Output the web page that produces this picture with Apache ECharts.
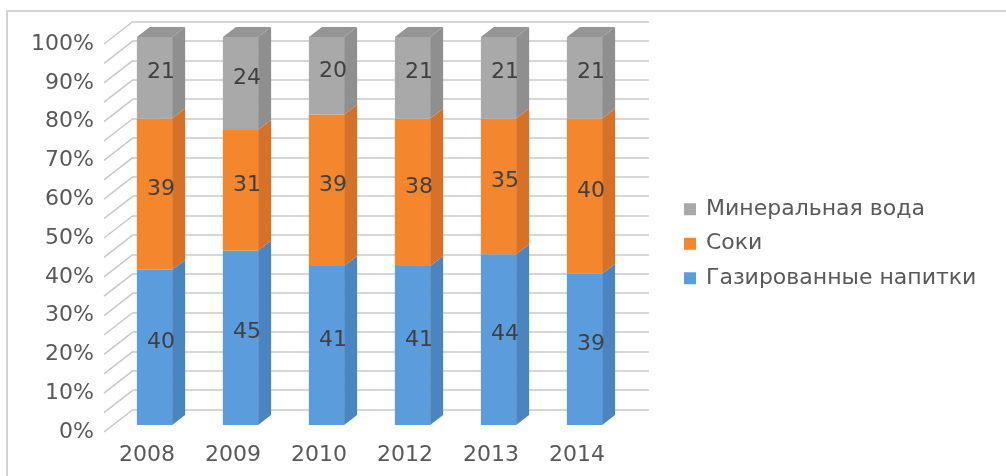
<!DOCTYPE html>
<html>
<head>
<meta charset="utf-8">
<script src="https://cdn.jsdelivr.net/npm/echarts@6/dist/echarts.min.js"></script>
<style>
  html, body { margin: 0; padding: 0; background: #ffffff; }
  #chart { width: 1006px; height: 476px; }
</style>
</head>
<body>
<div id="chart"></div>
<script>
// Beverage market shares by year, percent (each column sums to 100)
const categories = ['2008', '2009', '2010', '2012', '2013', '2014'];
const soda  = [40, 45, 41, 41, 44, 39];   // Газированные напитки
const juice = [39, 31, 39, 38, 35, 40];   // Соки
const water = [21, 24, 20, 21, 21, 21];   // Минеральная вода
const wallTicks = [0, 5, 10, 15, 20, 25, 30, 35, 40, 45, 50, 55, 60, 65, 70, 75, 80, 85, 90, 95, 100];

const seriesDefs = [
  { name: 'Газированные напитки', values: soda,  front: '#5B9DDC', side: '#4A85BF', top: '#4F8FCC' },
  { name: 'Соки',                 values: juice, front: '#F4862E', side: '#D87128', top: '#E07A2C' },
  { name: 'Минеральная вода',     values: water, front: '#A9A9A9', side: '#8F8F8F', top: '#959595' }
];

const FONT = 'DejaVu Sans';
const FONT_SIZE = 22;

// Perspective offsets (pixels) of the pseudo-3D box
const WALL_DEPTH = [29, -22.5];   // floor front edge -> back wall
const BAR_FRONT  = [7.5, -7];     // floor front edge -> bar front face
const BAR_DEPTH  = [13, -10];     // bar front face -> bar back face
const BAR_WIDTH_RATIO = 0.41;

// Build stacked [category, base, top, value] rows
const base = categories.map(() => 0);
const stackedRows = seriesDefs.map(def => def.values.map((v, i) => {
  const row = [i, base[i], base[i] + v, v];
  base[i] += v;
  return row;
}));

function barRenderer(isTop) {
  return function (params, api) {
    const cat = api.value(0), lo = api.value(1), hi = api.value(2), val = api.value(3);
    const pLo = api.coord([cat, lo]);
    const pHi = api.coord([cat, hi]);
    const w = api.size([1, 0])[0] * BAR_WIDTH_RATIO;
    const x0 = pLo[0] + BAR_FRONT[0] - w / 2;
    const yb = pLo[1] + BAR_FRONT[1];
    const yt = pHi[1] + BAR_FRONT[1];
    const dx = BAR_DEPTH[0], dy = BAR_DEPTH[1];
    const def = seriesDefs[params.seriesIndex - 1];
    const children = [
      { type: 'polygon', shape: { points: [[x0 + w, yb], [x0 + w + dx, yb + dy], [x0 + w + dx, yt + dy], [x0 + w, yt]] },
        style: { fill: def.side } },
      { type: 'rect', shape: { x: x0, y: yt, width: w, height: yb - yt }, style: { fill: def.front } }
    ];
    if (isTop) {
      children.push({ type: 'polygon', shape: { points: [[x0, yt], [x0 + w, yt], [x0 + w + dx, yt + dy], [x0 + dx, yt + dy]] },
        style: { fill: def.top } });
    }
    children.push({
      type: 'text',
      style: {
        text: String(val), x: x0 + w / 2 + dx / 2, y: (yt + yb) / 2 + dy / 2,
        align: 'center', verticalAlign: 'middle',
        fill: '#404040', fontSize: FONT_SIZE, fontFamily: FONT
      }
    });
    return { type: 'group', children: children };
  };
}

const chart = echarts.init(document.getElementById('chart'), null, { renderer: 'canvas' });

const option = {
  backgroundColor: '#ffffff',
  animation: false,
  graphic: [{
    type: 'rect', silent: true, z: -10,
    shape: { x: 7, y: 11, width: 1020, height: 490 },
    style: { fill: 'none', stroke: '#d4d4d4', lineWidth: 2 }
  }],
  legend: {
    orient: 'vertical',
    left: 679, top: 192,
    icon: 'rect', itemWidth: 12, itemHeight: 12, itemGap: 10,
    data: ['Минеральная вода', 'Соки', 'Газированные напитки'],
    textStyle: { color: '#595959', fontSize: FONT_SIZE, fontFamily: FONT, lineHeight: 24.5, padding: [0, 0, 0, 5] }
  },
  grid: [
    // floor front plane
    { left: 104, width: 516, top: 44, bottom: 44 },
    // back wall plane
    { left: 104 + WALL_DEPTH[0], width: 516, top: 44 + WALL_DEPTH[1], bottom: 44 - WALL_DEPTH[1] }
  ],
  xAxis: [
    { gridIndex: 0, type: 'category', data: categories,
      axisLine: { show: false }, axisTick: { show: false },
      axisLabel: { color: '#595959', fontSize: FONT_SIZE, fontFamily: FONT, margin: 12 } },
    { gridIndex: 1, type: 'category', data: categories, show: false }
  ],
  yAxis: [
    { gridIndex: 0, type: 'value', min: 0, max: 100, interval: 10,
      axisLine: { show: false }, axisTick: { show: false }, splitLine: { show: false },
      axisLabel: { formatter: '{value}%', color: '#595959', fontSize: FONT_SIZE, fontFamily: FONT, margin: 10 } },
    { gridIndex: 1, type: 'value', min: 0, max: 100, interval: 5,
      axisLine: { show: false }, axisTick: { show: false }, axisLabel: { show: false },
      splitLine: { show: true, lineStyle: { color: '#c8c8c8', width: 1.5 } } }
  ],
  series: [
    // side wall grid lines running from the value axis back to the wall
    {
      type: 'custom', xAxisIndex: 0, yAxisIndex: 0, silent: true, z: 1,
      data: wallTicks.map(v => [0, v]),
      renderItem: function (params, api) {
        const p = api.coord([0, api.value(1)]);
        const x0 = params.coordSys.x;
        return { type: 'line',
          shape: { x1: x0, y1: p[1], x2: x0 + WALL_DEPTH[0], y2: p[1] + WALL_DEPTH[1] },
          style: { stroke: '#c8c8c8', lineWidth: 1.5 } };
      }
    }
  ].concat(seriesDefs.map((def, k) => ({
    type: 'custom', name: def.name, xAxisIndex: 0, yAxisIndex: 0, z: 3,
    itemStyle: { color: def.front },
    encode: { x: 0, y: [1, 2] },
    data: stackedRows[k],
    renderItem: barRenderer(k === seriesDefs.length - 1)
  })))
};

chart.setOption(option);
</script>
</body>
</html>
